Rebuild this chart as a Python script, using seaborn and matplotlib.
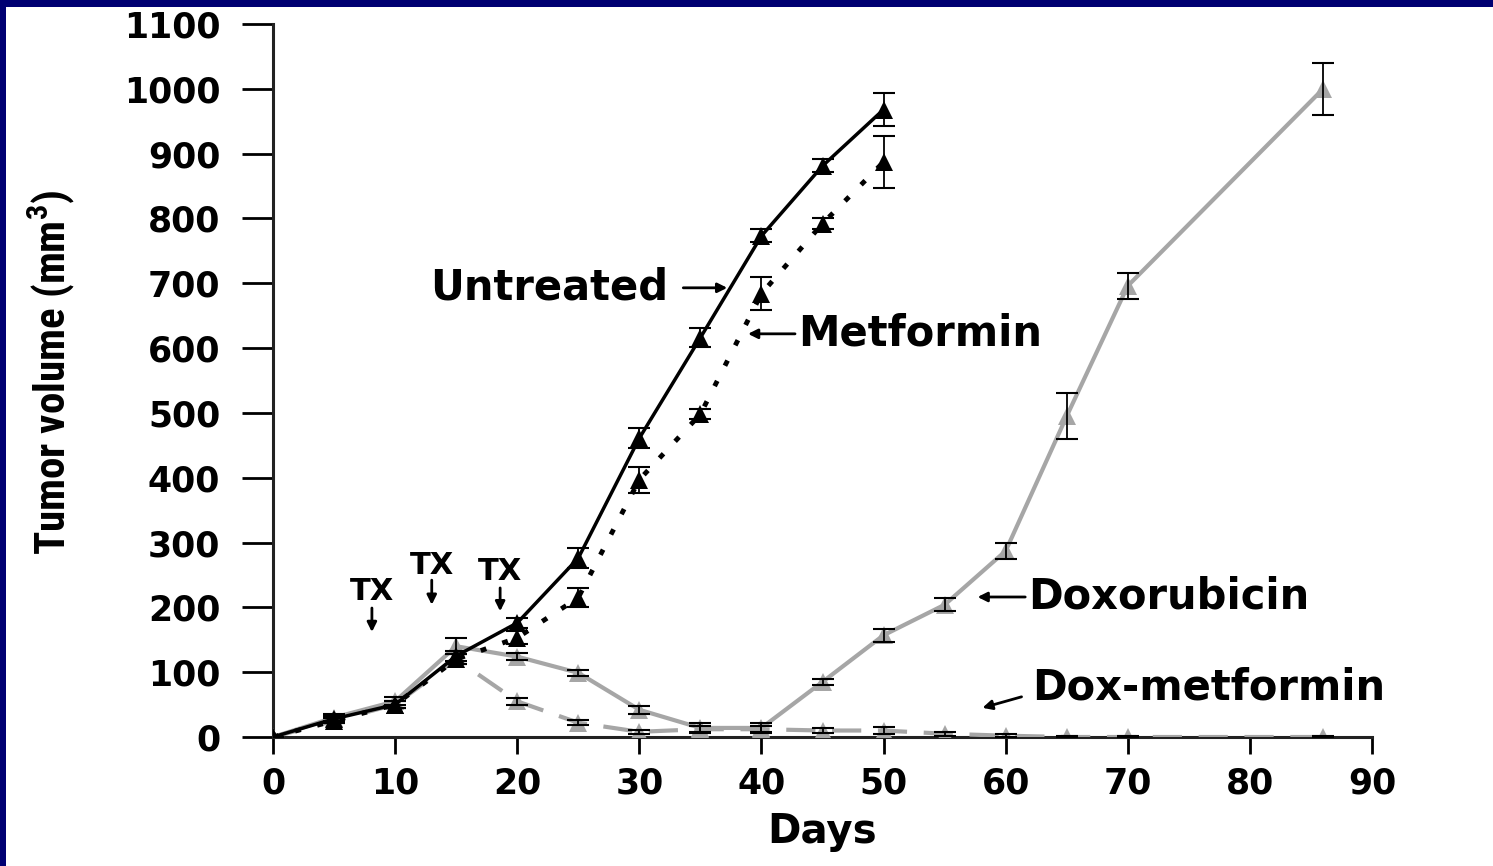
import numpy as np
import pandas as pd
import matplotlib
matplotlib.use("Agg")
import matplotlib.pyplot as plt
import seaborn as sns
from matplotlib import font_manager

# ---- data ----
days_short = [0, 5, 10, 15, 20, 25, 30, 35, 40, 45, 50]
untreated = [0, 28, 50, 125, 176, 276, 461, 616, 773, 881, 968]
untreated_err = [0, 5, 6, 8, 8, 15, 15, 15, 10, 10, 25]
metformin = [0, 25, 50, 120, 153, 215, 397, 498, 684, 792, 887]
metformin_err = [0, 4, 6, 8, 10, 15, 20, 8, 25, 8, 40]

days_long = [0, 5, 10, 15, 20, 25, 30, 35, 40, 45, 50, 55, 60, 65, 70, 86]
doxorubicin = [0, 30, 55, 140, 124, 99, 42, 14, 14, 85, 157, 204, 287, 495, 696, 1000]
doxorubicin_err = [0, 5, 6, 12, 5, 5, 6, 8, 8, 5, 10, 10, 12, 35, 20, 40]
doxmet = [0, 25, 50, 120, 55, 22, 8, 12, 12, 10, 10, 5, 2, 0, 0, 0]
doxmet_err = [0, 4, 5, 8, 5, 4, 3, 5, 5, 4, 5, 3, 2, 1, 1, 1]

x_ticks = [0, 10, 20, 30, 40, 50, 60, 70, 80, 90]
y_ticks = [0, 100, 200, 300, 400, 500, 600, 700, 800, 900, 1000, 1100]

sns.set_theme(style="ticks")
plt.rcParams['font.family'] = ['DejaVu Sans']
plt.rcParams['font.weight'] = 'bold'
plt.rcParams['text.color'] = 'black'
plt.rcParams['axes.labelcolor'] = 'black'
plt.rcParams['xtick.color'] = 'black'
plt.rcParams['ytick.color'] = 'black'

NAVY = '#000072'
GRAY = '#a6a6a6'

fig = plt.figure(figsize=(14.93, 8.66), dpi=100)
fig.patch.set_facecolor(NAVY)
# white page inside navy border (top and left)
fig.add_artist(matplotlib.patches.Rectangle((6/1493, 0), 1, 1 - 7/866,
               transform=fig.transFigure, facecolor='white', edgecolor='none', zorder=0))

ax = fig.add_axes([273/1493, 1 - 737/866, (1372-273)/1493, (737-24)/866])
ax.set_facecolor('white')
ax.patch.set_alpha(0)

def draw(x, y, err, color, ls, lw, name):
    df = pd.DataFrame({'Days': x, 'Volume': y})
    sns.lineplot(data=df, x='Days', y='Volume', ax=ax, color=color, linestyle=ls,
                 linewidth=lw, marker='^', markersize=13, markeredgewidth=0,
                 markerfacecolor=color, label=name, legend=False, zorder=3)
    ax.errorbar(x, y, yerr=err, fmt='none', ecolor='black', elinewidth=1.3,
                capsize=8, capthick=1.5, zorder=4)

draw(days_long, doxmet, doxmet_err, GRAY, (0, (7, 4)), 3.0, 'Dox-metformin')
draw(days_long, doxorubicin, doxorubicin_err, GRAY, '-', 3.0, 'Doxorubicin')
draw(days_short, metformin, metformin_err, 'black', (0, (1.2, 3.5)), 3.5, 'Metformin')
draw(days_short, untreated, untreated_err, 'black', '-', 2.5, 'Untreated')

ax.set_xlim(0, 90)
ax.set_ylim(0, 1100)
ax.set_xticks(x_ticks)
ax.set_yticks(y_ticks)
ax.tick_params(axis='y', length=22, width=2, pad=16, labelsize=25, colors='black')
ax.tick_params(axis='x', length=12, width=2, pad=9, labelsize=25, colors='black')
for lab in ax.get_xticklabels() + ax.get_yticklabels():
    lab.set_fontweight('bold')
for s in ['top', 'right']:
    ax.spines[s].set_visible(False)
for s in ['left', 'bottom']:
    ax.spines[s].set_linewidth(2.2)
    ax.spines[s].set_color('#222222')

ax.set_xlabel('')
ax.set_ylabel('')
fig.text((757+888)/2/1493, 1 - 832/866, 'Days', fontsize=29, fontweight='bold',
         ha='center', va='center', color='black')

# y label (condensed font if available)
names = {f.name for f in font_manager.fontManager.ttflist}
ylab_family = None
for cand in ['Liberation Sans Narrow', 'DejaVu Sans Condensed', 'Roboto Condensed', 'Open Sans Condensed']:
    if cand in names:
        ylab_family = cand
        break
if ylab_family:
    fig.text(52/1493, 1 - 372/866, 'Tumor volume (mm$^\\mathregular{3}$)', rotation=90,
             fontsize=31, fontweight='bold', family=ylab_family, ha='center', va='center',
             color='black')
else:
    fig.text(52/1493, 1 - 372/866, 'Tumor volume (mm$^\\mathregular{3}$)', rotation=90,
             fontsize=26, fontweight='bold', family='Liberation Sans', ha='center', va='center',
             color='black')

arrow = dict(arrowstyle='-|>', color='black', lw=2, mutation_scale=14, shrinkA=0, shrinkB=0)
lab_fs = 30
ax.text(32.35, 693, 'Untreated', fontsize=lab_fs, fontweight='bold', ha='right', va='center', color='black')
ax.annotate('', xy=(37.2, 693), xytext=(33.6, 693), arrowprops=arrow)
ax.text(43.0, 622, 'Metformin', fontsize=lab_fs, fontweight='bold', ha='left', va='center', color='black')
ax.annotate('', xy=(38.9, 622), xytext=(42.75, 622), arrowprops=arrow)
ax.text(61.8, 216, 'Doxorubicin', fontsize=lab_fs, fontweight='bold', ha='left', va='center', color='black')
ax.annotate('', xy=(57.7, 216), xytext=(61.6, 216), arrowprops=arrow)
ax.text(62.2, 76, 'Dox-metformin', fontsize=lab_fs, fontweight='bold', ha='left', va='center', color='black')
ax.annotate('', xy=(58.1, 45), xytext=(61.3, 62), arrowprops=arrow)

tx_fs = 22
for (tx, ty, a0, a1) in [(8.1, 225, 199, 162), (13.0, 265, 242, 204), (18.6, 255, 230, 194)]:
    ax.text(tx, ty, 'TX', fontsize=tx_fs, fontweight='bold', ha='center', va='center', color='black')
    ax.annotate('', xy=(tx, a1), xytext=(tx, a0), arrowprops=arrow)

fig.savefig('out.png', dpi=100, facecolor=fig.get_facecolor())
